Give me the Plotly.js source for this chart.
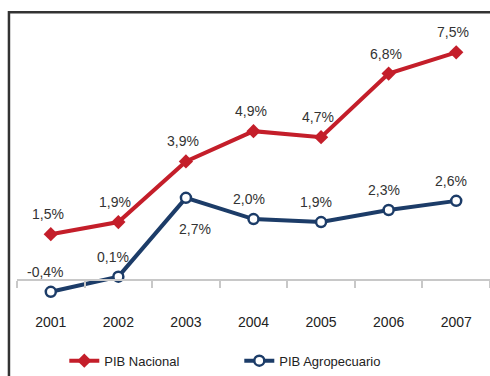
<!DOCTYPE html>
<html><head><meta charset="utf-8">
<script src="https://cdn.plot.ly/plotly-3.0.1.min.js"></script>
<style>html,body{margin:0;padding:0;background:#fff}#c{width:490px;height:376px}</style>
</head><body><div id="c"></div>
<script>
const years = ['2001','2002','2003','2004','2005','2006','2007'];
const pibNacional = [1.5, 1.9, 3.9, 4.9, 4.7, 6.8, 7.5];
const pibAgro = [-0.4, 0.1, 2.7, 2.0, 1.9, 2.3, 2.6];
const agroBelow = [false, false, true, false, false, false, false];
const fmt = v => v.toFixed(1).replace('.', ',') + '%';
const FONT = '"Liberation Sans",Arial,sans-serif';
const yRange = [-1, 8.5];
const red = '#c41e2a', blue = '#1c3c68';

const traces = [
  {x: years, y: pibNacional, name: 'PIB Nacional', type: 'scatter', mode: 'lines+markers',
   line: {color: red, width: 4}, marker: {symbol: 'diamond', size: 11, color: red}},
  {x: years, y: pibAgro, name: 'PIB Agropecuario', type: 'scatter', mode: 'lines+markers',
   line: {color: blue, width: 4}, marker: {symbol: 'circle', size: 10, color: '#fff', line: {color: blue, width: 2.5}}}
];

const labelFont = {family: FONT, size: 14, color: '#333'};
const annotations = [];
years.forEach((yr, i) => {
  annotations.push({xref: 'x', yref: 'y', x: i, y: pibNacional[i], text: fmt(pibNacional[i]), showarrow: false,
    xshift: -3, yshift: 20, font: labelFont});
  annotations.push({xref: 'x', yref: 'y', x: i, y: pibAgro[i], text: fmt(pibAgro[i]), showarrow: false,
    xshift: agroBelow[i] ? 9 : -5, yshift: agroBelow[i] ? -31 : 20, font: labelFont});
});

const layout = {
  width: 490, height: 376,
  margin: {l: 17, r: 0, t: 22, b: 64},
  paper_bgcolor: '#fff', plot_bgcolor: '#fff',
  font: {family: FONT, size: 14, color: '#222'},
  showlegend: true,
  legend: {orientation: 'h', x: 0.1, xanchor: 'left', y: -0.176, yanchor: 'middle',
           font: {family: FONT, size: 13, color: '#222'}, entrywidth: 130, itemwidth: 30},
  xaxis: {type: 'category', range: [-0.5, 6.5], anchor: 'free',
          position: (0 - yRange[0]) / (yRange[1] - yRange[0]),
          showline: true, linecolor: '#c8c8c8', linewidth: 2,
          ticks: 'outside', ticklen: 7, tickcolor: '#c8c8c8', tickwidth: 2, tickson: 'boundaries',
          ticklabelstandoff: 30, tickfont: {family: FONT, size: 14, color: '#222'},
          showgrid: false, zeroline: false, fixedrange: true},
  yaxis: {range: yRange, showticklabels: false, showline: false, ticks: '', showgrid: false, zeroline: false, fixedrange: true},
  annotations: annotations,
  shapes: [{type: 'rect', xref: 'paper', yref: 'paper', x0: -0.017, x1: 1.2, y0: -0.5, y1: 1.034,
            line: {color: '#333', width: 2.5}, fillcolor: 'rgba(0,0,0,0)', layer: 'below'}]
};
Plotly.newPlot('c', traces, layout, {displayModeBar: false, staticPlot: true});
</script></body></html>
